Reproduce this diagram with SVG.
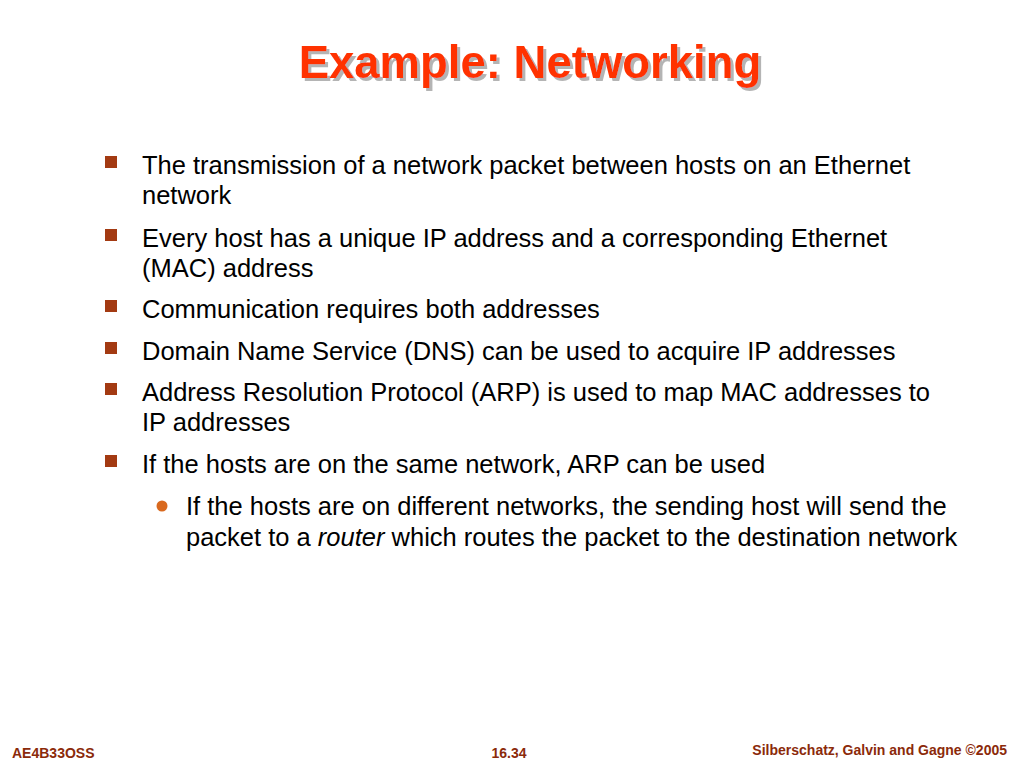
<svg xmlns="http://www.w3.org/2000/svg" width="1024" height="768" viewBox="0 0 1024 768">
<style>
.t{font-family:"Liberation Sans",Arial,sans-serif;font-size:25.5px;fill:#000}
.title{font-family:"Liberation Sans",Arial,sans-serif;font-size:45.5px;font-weight:bold;fill:#FF3300}
.ft{font-family:"Liberation Sans",Arial,sans-serif;font-size:14px;font-weight:bold;fill:#8B2A0A}
.sq{fill:#A33A12}
</style>
<defs>
<filter id="shadow" x="-5%" y="-20%" width="110%" height="150%">
<feOffset in="SourceAlpha" dx="3" dy="3" result="off"/>
<feFlood flood-color="#B4B4B4"/>
<feComposite in2="off" operator="in" result="sh"/>
<feMerge><feMergeNode in="sh"/><feMergeNode in="SourceGraphic"/></feMerge>
</filter>
</defs>
<rect width="1024" height="768" fill="#fff"/>
<g id="title">
<text class="title" x="530" y="78" text-anchor="middle" filter="url(#shadow)">Example: Networking</text>
</g>
<g id="bullets">
<rect class="sq" x="105" y="156" width="12" height="12"/>
<text class="t" x="142" y="174">The transmission of a network packet between hosts on an Ethernet</text>
<text class="t" x="142" y="204">network</text>
<rect class="sq" x="105" y="229" width="12" height="12"/>
<text class="t" x="142" y="247">Every host has a unique IP address and a corresponding Ethernet</text>
<text class="t" x="142" y="277">(MAC) address</text>
<rect class="sq" x="105" y="300" width="12" height="12"/>
<text class="t" x="142" y="318">Communication requires both addresses</text>
<rect class="sq" x="105" y="342" width="12" height="12"/>
<text class="t" x="142" y="360">Domain Name Service (DNS) can be used to acquire IP addresses</text>
<rect class="sq" x="105" y="383" width="12" height="12"/>
<text class="t" x="142" y="401">Address Resolution Protocol (ARP) is used to map MAC addresses to</text>
<text class="t" x="142" y="431">IP addresses</text>
<rect class="sq" x="105" y="455" width="12" height="12"/>
<text class="t" x="142" y="473">If the hosts are on the same network, ARP can be used</text>
<circle cx="162" cy="506" r="5.5" fill="#D9691E"/>
<text class="t" x="186" y="515">If the hosts are on different networks, the sending host will send the</text>
<text class="t" x="186" y="546">packet to a <tspan font-style="italic">router</tspan> which routes the packet to the destination network</text>
</g>
<g id="footer">
<text class="ft" x="12" y="758">AE4B33OSS</text>
<text class="ft" x="509" y="758" text-anchor="middle">16.34</text>
<text class="ft" x="1007" y="755" text-anchor="end">Silberschatz, Galvin and Gagne ©2005</text>
</g>
</svg>
